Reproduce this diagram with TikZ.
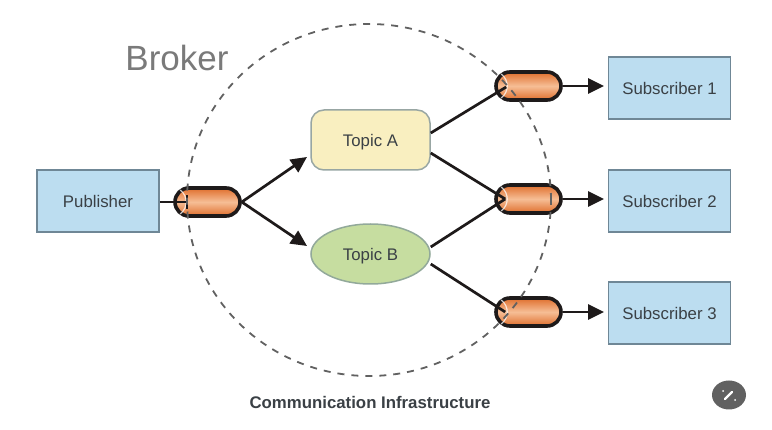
\documentclass[tikz,border=0pt]{standalone}
\usepackage{fontspec}
\setmainfont{Liberation Sans}
\usetikzlibrary{arrows.meta,shapes.geometric}
\definecolor{boxblue}{HTML}{BCDDF0}
\definecolor{boxedge}{HTML}{6F8796}
\definecolor{topica}{HTML}{F9EFC0}
\definecolor{topicb}{HTML}{C6DDA0}
\definecolor{inkdark}{HTML}{1E1A1A}
\definecolor{txt}{HTML}{3A4045}
\definecolor{pipemid}{HTML}{F6BE96}
\definecolor{pipeedge}{HTML}{DF6E2C}
\tikzset{
  x=1pt,y=-1pt,
  clientbox/.style={draw=boxedge,line width=1.5pt,fill=boxblue,minimum width=122pt,minimum height=62pt,inner sep=0pt,text=txt,font=\fontsize{16.8}{18}\selectfont},
  pipe/.style={draw=inkdark,line width=3.6pt,rounded corners=14pt,minimum width=65pt,minimum height=28pt,inner sep=0pt,
    top color=pipeedge,bottom color=pipeedge,middle color=pipemid},
  conn/.style={draw=inkdark,line width=2.7pt},
  arrowed/.style={conn,-{Triangle[length=16pt,width=15pt]}},
  shine/.style={draw=white,line width=1.2pt,opacity=.75},
  topictext/.style={text=txt,font=\fontsize{16.8}{18}\selectfont,line width=1.5pt,draw=#1,inner sep=0pt,text height=14pt,text depth=1.5pt}
}
\begin{document}
\begin{tikzpicture}
\useasboundingbox (0,0) rectangle (772,430);
\fill[white] (0,0) rectangle (772,430);

% nodes
\node[clientbox] (pub) at (98,201) {Publisher};
\node[clientbox] (s1) at (669.5,88) {Subscriber 1};
\node[clientbox] (s2) at (669.5,201) {Subscriber 2};
\node[clientbox] (s3) at (669.5,313) {Subscriber 3};
\node[topictext=boxedge!70!topica,fill=topica,rounded corners=13pt,minimum width=119pt,minimum height=60pt] (ta) at (370.5,140) {Topic A};
\node[topictext=boxedge!60!topicb,fill=topicb,ellipse,minimum width=119pt,minimum height=60pt] (tb) at (370.5,254) {Topic B};

% pipes
\node[pipe] (p0) at (207.5,202) {};
\node[pipe] (p1) at (528.5,86) {};
\node[pipe] (p2) at (528.5,199) {};
\node[pipe] (p3) at (528.5,312) {};

% highlights at the open ends of the pipes
\foreach \n in {p0,p1,p2,p3}{
  \draw[shine] ([xshift=7pt,yshift=-12pt]\n.west) .. controls ([xshift=15pt,yshift=-6pt]\n.west) and ([xshift=15pt,yshift=6pt]\n.west) .. ([xshift=7pt,yshift=12pt]\n.west);
}

% inner ends of connectors
\coordinate (i0) at ([xshift=14pt]p0.west);
\coordinate (i1) at ([xshift=12pt,yshift=-1pt]p1.west);
\coordinate (i2) at ([xshift=11pt]p2.west);
\coordinate (i3) at ([xshift=11pt]p3.west);
\coordinate (ta-in) at (307,157);
\coordinate (tb-in) at (307,246);
\coordinate (s1-in) at (604,86);
\coordinate (s2-in) at (604,199);
\coordinate (s3-in) at (604,312);

% connectors
\draw[draw=inkdark,line width=2pt] (pub.east |- i0) -- (i0);
\draw[draw=inkdark,line width=2pt] ([yshift=-7pt]i0) -- ([yshift=7pt]i0);
\draw[arrowed] (p0.east) -- (ta-in);
\draw[arrowed] (p0.east) -- (tb-in);
\draw[conn] (ta.east |- 0,133) -- (i1);
\draw[conn] (ta.east |- 0,153) -- (i2);
\draw[conn] (tb.east |- 0,247) -- (i2);
\draw[conn] (tb.east |- 0,264) -- (i3);
\draw[arrowed] (p1.east) -- (s1-in);
\draw[arrowed] (p2.east) -- (s2-in);
\draw[arrowed] (p3.east) -- (s3-in);

% broker boundary
\node[draw=black!62,line width=1.8pt,dash pattern=on 7pt off 7pt,ellipse,minimum width=364pt,minimum height=352pt,inner sep=0pt] (broker) at (369,200) {};

% labels
\node[text=black!52,font=\fontsize{35}{40}\selectfont,inner sep=0pt] (brokerlabel) at (177,58) {Broker};
\node[text=txt,font=\bfseries\fontsize{16.8}{18}\selectfont,inner sep=0pt] (infra) at (370,402.5) {Communication Infrastructure};

% corner badge
\node[fill=black!62,ellipse,minimum width=34pt,minimum height=29pt,inner sep=0pt] (badge) at (729,395) {};
\draw[white,line width=2.4pt,line cap=round] ([xshift=-4pt,yshift=-4pt]badge.center) -- ([xshift=3pt,yshift=3pt]badge.center);
\fill[white] ([xshift=-6pt,yshift=4pt]badge.center) circle (1pt) ([xshift=6pt,yshift=-5pt]badge.center) circle (1pt);
\end{tikzpicture}
\end{document}
